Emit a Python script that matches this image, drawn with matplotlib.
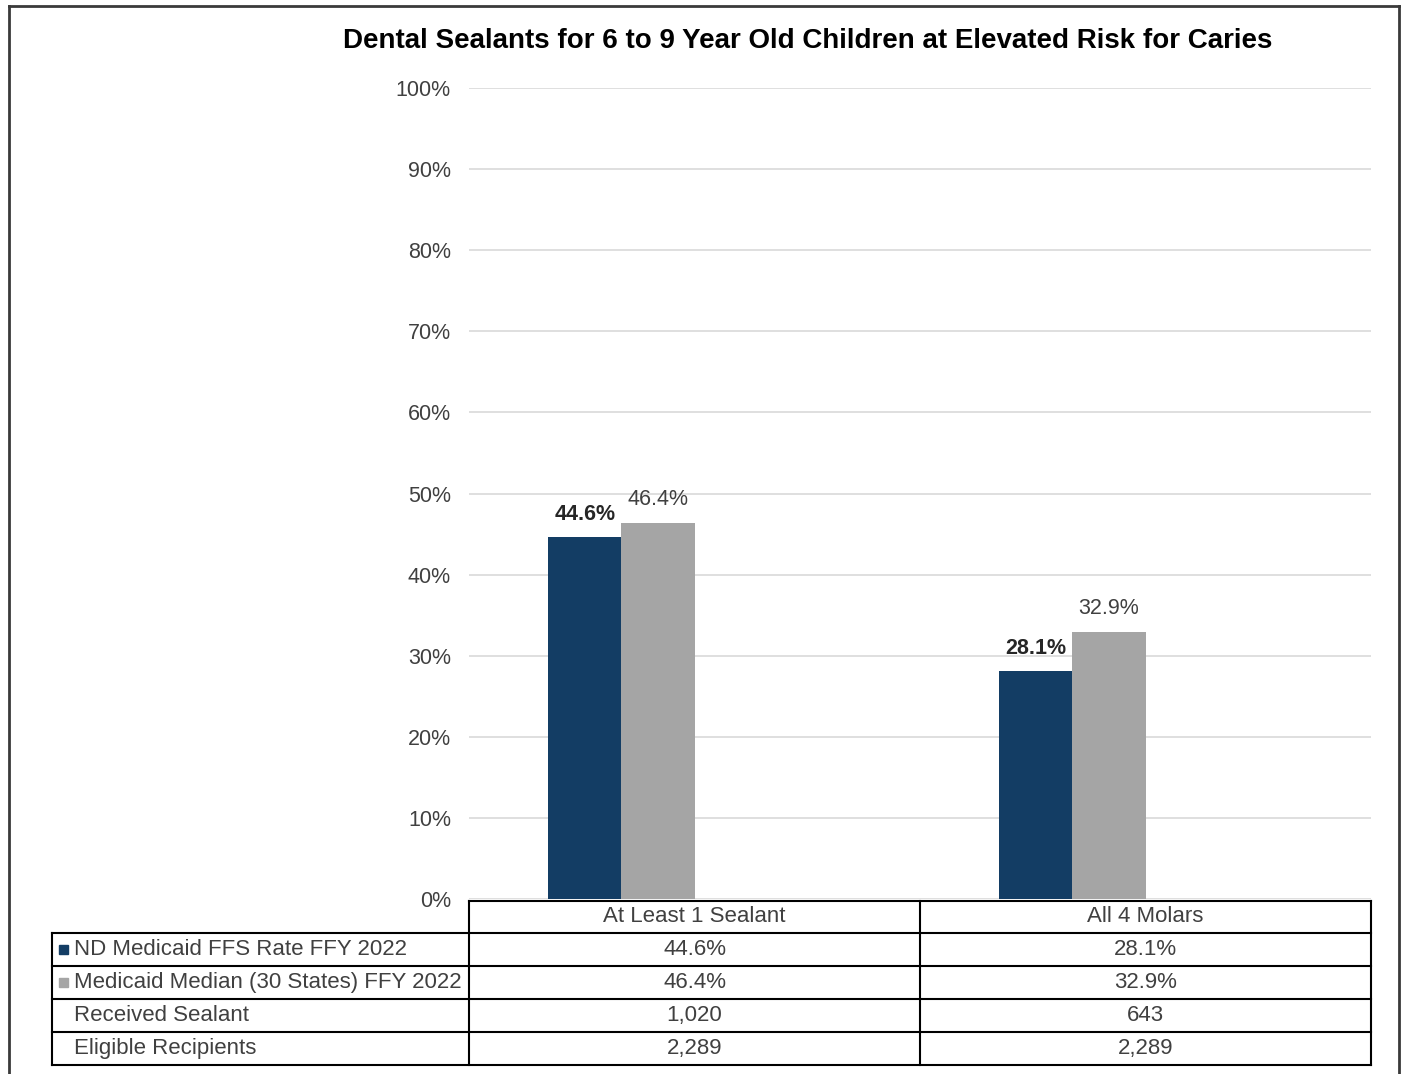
import matplotlib
matplotlib.use("Agg")
import matplotlib.pyplot as plt
from matplotlib.lines import Line2D
from matplotlib.patches import Rectangle
import numpy as np

# ---- data ----
title = "Dental Sealants for 6 to 9 Year Old Children at Elevated Risk for Caries"
categories = ["At Least 1 Sealant", "All 4 Molars"]
series_names = ["ND Medicaid FFS Rate FFY 2022", "Medicaid Median (30 States) FFY 2022"]
nd_rate = [44.6, 28.1]
median_rate = [46.4, 32.9]
received = ["1,020", "643"]
eligible = ["2,289", "2,289"]
extra_rows = ["Received Sealant", "Eligible Recipients"]
yticks = [0, 10, 20, 30, 40, 50, 60, 70, 80, 90, 100]

# ---- style ----
C_ND = "#133D64"
C_MED = "#A5A5A5"
GRID = "#D9D9D9"
TXT = "#404040"
FONT = "Liberation Sans"
FS = 15.5
FS_TAB = 16.0

W, H = 1405, 1074
fig = plt.figure(figsize=(W / 100, H / 100), dpi=100)
plt.rcParams["font.family"] = [FONT, "DejaVu Sans"]

def fx(x):
    return x / W

def fy(y):
    return 1 - y / H

# plot axes
L, R, T, B = 469, 1371, 88, 899
ax = fig.add_axes([fx(L), fy(B), (R - L) / W, (B - T) / H])
ax.set_xlim(0, len(categories))
ax.set_ylim(0, 100)
for s in ax.spines.values():
    s.set_visible(False)
ax.set_xticks([])
ax.set_yticks(yticks)
ax.set_yticklabels([f"{v}%" for v in yticks], fontsize=FS, color=TXT)
ax.tick_params(axis="y", length=0, pad=13)
ax.yaxis.grid(True, color=GRID, linewidth=1.2)
ax.set_axisbelow(True)

bw = 0.162
centers = np.arange(len(categories)) + 0.5
b1 = ax.bar(centers - 1.5 * bw, nd_rate, width=bw, color=C_ND, zorder=3)
b2 = ax.bar(centers - 0.5 * bw, median_rate, width=bw, color=C_MED, zorder=3)
for rect, v in zip(b1, nd_rate):
    ax.annotate(f"{v:.1f}%", (rect.get_x() + rect.get_width() / 2, v),
                xytext=(0, 16.5), textcoords="offset points", ha="center", va="center",
                fontsize=FS, fontweight="bold", color="#262626")
for rect, v in zip(b2, median_rate):
    ax.annotate(f"{v:.1f}%", (rect.get_x() + rect.get_width() / 2, v),
                xytext=(0, 17), textcoords="offset points", ha="center", va="center",
                fontsize=FS, color=TXT)

# title
fig.text(fx(808), fy(41), title, ha="center", va="center", fontsize=20,
         fontweight="bold", color="#000000")

# ---- data table ----
rows_y = [901, 933, 966, 999, 1032, 1065]
col_x = [52, 469, 920, 1371]
lw = 1.5

def hline(x0, x1, y):
    fig.add_artist(Line2D([fx(x0), fx(x1)], [fy(y), fy(y)], color="black", lw=lw))

def vline(x, y0, y1):
    fig.add_artist(Line2D([fx(x), fx(x)], [fy(y0), fy(y1)], color="black", lw=lw))

hline(col_x[1], col_x[3], rows_y[0])
for y in rows_y[1:]:
    hline(col_x[0], col_x[3], y)
vline(col_x[0], rows_y[1], rows_y[-1])
for x in col_x[1:]:
    vline(x, rows_y[0], rows_y[-1])

def cy(i):
    return fy((rows_y[i] + rows_y[i + 1]) / 2)

# header
for j, cat in enumerate(categories):
    fig.text(fx((col_x[j + 1] + col_x[j + 2]) / 2), cy(0), cat, ha="center", va="center",
             fontsize=FS_TAB, color=TXT)

row_labels = series_names + extra_rows
row_vals = [[f"{v:.1f}%" for v in nd_rate], [f"{v:.1f}%" for v in median_rate], received, eligible]
legend_colors = [C_ND, C_MED, None, None]
for i, (lab, vals, lc) in enumerate(zip(row_labels, row_vals, legend_colors)):
    yc = cy(i + 1)
    if lc is not None:
        fig.add_artist(Rectangle((fx(59), yc - 4.5 / H), 9 / W, 9 / H, color=lc,
                                 transform=fig.transFigure))
    fig.text(fx(74), yc, lab, ha="left", va="center", fontsize=FS_TAB, color=TXT)
    for j, v in enumerate(vals):
        fig.text(fx((col_x[j + 1] + col_x[j + 2]) / 2), yc, v, ha="center", va="center",
                 fontsize=FS_TAB, color=TXT)

# outer frame
fc = "#3a3a3a"
fig.add_artist(Line2D([fx(9), fx(9)], [fy(6), fy(1080)], color=fc, lw=2))
fig.add_artist(Line2D([fx(9), fx(1399)], [fy(6), fy(6)], color=fc, lw=2))
fig.add_artist(Line2D([fx(1399), fx(1399)], [fy(6), fy(1080)], color=fc, lw=2))

fig.savefig("out.png", dpi=100)
